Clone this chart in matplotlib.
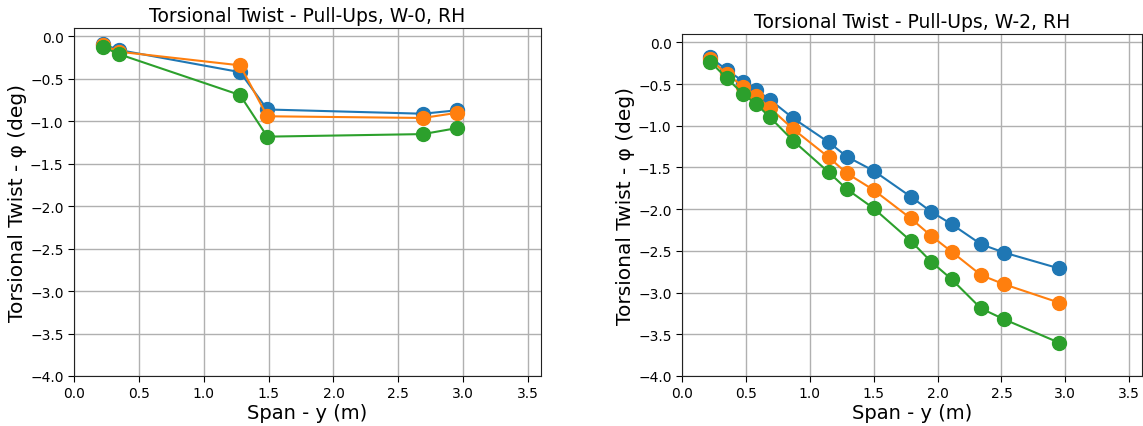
import matplotlib
matplotlib.use("Agg")
import matplotlib.pyplot as plt

# W-0 data
x_w0 = [0.22, 0.35, 1.28, 1.49, 2.69, 2.95]
w0_blue = [-0.09, -0.16, -0.42, -0.86, -0.91, -0.87]
w0_orange = [-0.10, -0.18, -0.34, -0.94, -0.96, -0.90]
w0_green = [-0.12, -0.21, -0.69, -1.18, -1.15, -1.08]

# W-2 data
x_w2 = [0.22, 0.35, 0.48, 0.58, 0.69, 0.87, 1.15, 1.29, 1.50, 1.79, 1.95, 2.11, 2.34, 2.52, 2.95]
w2_blue = [-0.18, -0.33, -0.47, -0.57, -0.69, -0.91, -1.20, -1.37, -1.54, -1.85, -2.03, -2.18, -2.42, -2.52, -2.71]
w2_orange = [-0.20, -0.38, -0.53, -0.64, -0.79, -1.04, -1.38, -1.57, -1.77, -2.11, -2.32, -2.51, -2.79, -2.90, -3.12]
w2_green = [-0.23, -0.43, -0.62, -0.74, -0.90, -1.18, -1.56, -1.76, -1.99, -2.38, -2.63, -2.84, -3.19, -3.32, -3.60]

titles = ["Torsional Twist - Pull-Ups, W-0, RH", "Torsional Twist - Pull-Ups, W-2, RH"]
xlabel = "Span - y (m)"
ylabel = "Torsional Twist - φ (deg)"
colors = ["#1f77b4", "#ff7f0e", "#2ca02c"]

W, H = 1143, 427
fig = plt.figure(figsize=(W / 100, H / 100), dpi=100)

def axbox(l, r, t, b):
    return [l / W, 1 - b / H, (r - l) / W, (b - t) / H]

ax1 = fig.add_axes(axbox(74, 541, 29, 377))
ax2 = fig.add_axes(axbox(682, 1142, 35, 377))

datasets = [
    (ax1, x_w0, [w0_blue, w0_orange, w0_green], titles[0]),
    (ax2, x_w2, [w2_blue, w2_orange, w2_green], titles[1]),
]

for ax, xs, series, title in datasets:
    for ys, c in zip(series, colors):
        ax.plot(xs, ys, "-o", color=c, markersize=10, linewidth=1.5, zorder=3)
    ax.set_xlim(0, 3.6)
    ax.set_ylim(-4, 0.1)
    ax.set_xticks([0.0, 0.5, 1.0, 1.5, 2.0, 2.5, 3.0, 3.5])
    ax.set_yticks([0.0, -0.5, -1.0, -1.5, -2.0, -2.5, -3.0, -3.5, -4.0])
    ax.grid(True, color="#b0b0b0", linewidth=1.0, zorder=0)
    ax.set_axisbelow(True)
    ax.tick_params(direction="out", length=4, labelsize=10)
    ax.set_title(title, fontsize=13.5, pad=5)
    ax.set_xlabel(xlabel, fontsize=14, labelpad=2)
    ax.set_ylabel(ylabel, fontsize=14.5, labelpad=2)
    for s in ax.spines.values():
        s.set_color("#222222")

fig.savefig("out.png", dpi=100)
